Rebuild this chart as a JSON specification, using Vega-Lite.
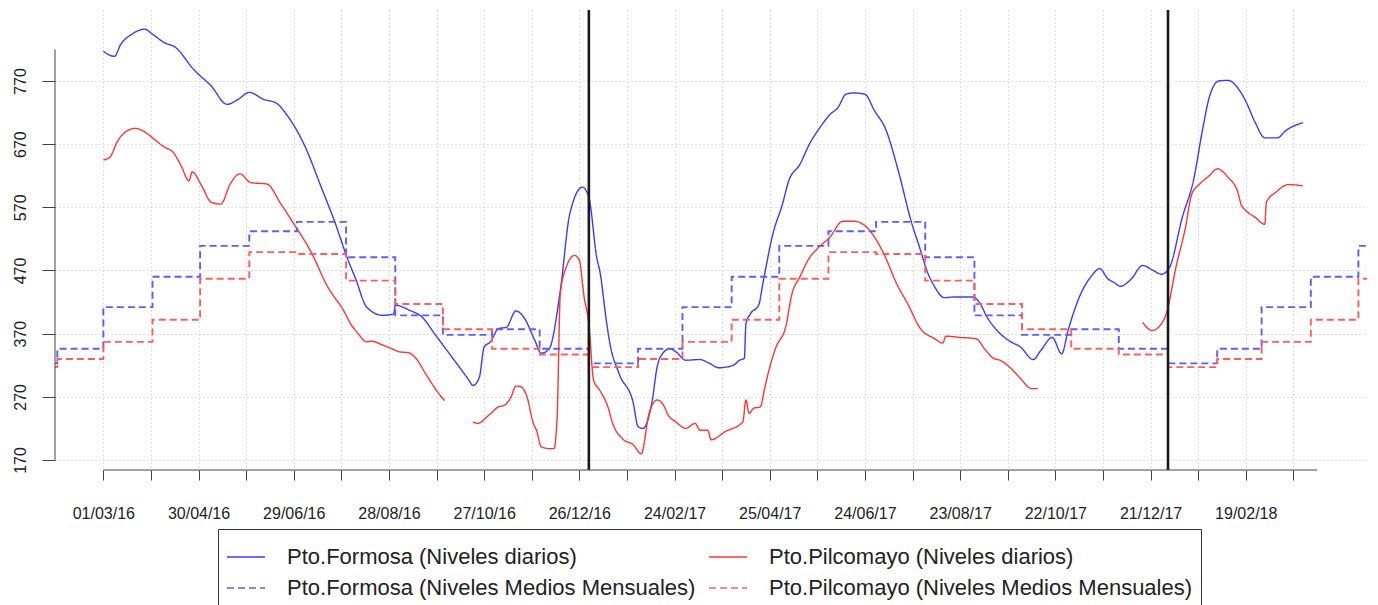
{
  "$schema": "https://vega.github.io/schema/vega-lite/v6.json",
  "width": 1312,
  "height": 460,
  "autosize": {"type": "none"},
  "padding": {"left": 55, "top": 10, "right": 11, "bottom": 135},
  "background": "white",
  "config": {"view": {"stroke": null}, "font": "Liberation Sans"},
  "datasets": {
    "diario": [
      {"fecha":"2016-03-01","serie":"FD","tramo":1,"nivel":817},{"fecha":"2016-03-08","serie":"FD","tramo":1,"nivel":809},{"fecha":"2016-03-12","serie":"FD","tramo":1,"nivel":828},{"fecha":"2016-03-19","serie":"FD","tramo":1,"nivel":844},{"fecha":"2016-03-27","serie":"FD","tramo":1,"nivel":852},{"fecha":"2016-04-01","serie":"FD","tramo":1,"nivel":844},{"fecha":"2016-04-09","serie":"FD","tramo":1,"nivel":830},{"fecha":"2016-04-15","serie":"FD","tramo":1,"nivel":824},{"fecha":"2016-04-27","serie":"FD","tramo":1,"nivel":788},{"fecha":"2016-05-08","serie":"FD","tramo":1,"nivel":762},{"fecha":"2016-05-18","serie":"FD","tramo":1,"nivel":733},{"fecha":"2016-05-25","serie":"FD","tramo":1,"nivel":741},{"fecha":"2016-06-01","serie":"FD","tramo":1,"nivel":752},{"fecha":"2016-06-10","serie":"FD","tramo":1,"nivel":741},{"fecha":"2016-06-18","serie":"FD","tramo":1,"nivel":735},{"fecha":"2016-06-25","serie":"FD","tramo":1,"nivel":715},{"fecha":"2016-07-06","serie":"FD","tramo":1,"nivel":667},{"fecha":"2016-07-16","serie":"FD","tramo":1,"nivel":604},{"fecha":"2016-07-25","serie":"FD","tramo":1,"nivel":546},{"fecha":"2016-08-02","serie":"FD","tramo":1,"nivel":488},{"fecha":"2016-08-07","serie":"FD","tramo":1,"nivel":457},{"fecha":"2016-08-14","serie":"FD","tramo":1,"nivel":412},{"fecha":"2016-08-24","serie":"FD","tramo":1,"nivel":399},{"fecha":"2016-08-31","serie":"FD","tramo":1,"nivel":401},{"fecha":"2016-09-01","serie":"FD","tramo":1,"nivel":415},{"fecha":"2016-09-10","serie":"FD","tramo":1,"nivel":407},{"fecha":"2016-09-18","serie":"FD","tramo":1,"nivel":396},{"fecha":"2016-09-26","serie":"FD","tramo":1,"nivel":369},{"fecha":"2016-10-04","serie":"FD","tramo":1,"nivel":342},{"fecha":"2016-10-12","serie":"FD","tramo":1,"nivel":315},{"fecha":"2016-10-17","serie":"FD","tramo":1,"nivel":298},{"fecha":"2016-10-20","serie":"FD","tramo":1,"nivel":288},{"fecha":"2016-10-24","serie":"FD","tramo":1,"nivel":301},{"fecha":"2016-10-27","serie":"FD","tramo":1,"nivel":349},{"fecha":"2016-10-31","serie":"FD","tramo":1,"nivel":357},{"fecha":"2016-11-05","serie":"FD","tramo":1,"nivel":378},{"fecha":"2016-11-10","serie":"FD","tramo":1,"nivel":380},{"fecha":"2016-11-16","serie":"FD","tramo":1,"nivel":406},{"fecha":"2016-11-21","serie":"FD","tramo":1,"nivel":396},{"fecha":"2016-11-28","serie":"FD","tramo":1,"nivel":359},{"fecha":"2016-12-02","serie":"FD","tramo":1,"nivel":339},{"fecha":"2016-12-07","serie":"FD","tramo":1,"nivel":346},{"fecha":"2016-12-14","serie":"FD","tramo":1,"nivel":438},{"fecha":"2016-12-20","serie":"FD","tramo":1,"nivel":560},{"fecha":"2016-12-28","serie":"FD","tramo":1,"nivel":602},{"fecha":"2017-01-01","serie":"FD","tramo":1,"nivel":586},{"fecha":"2017-01-06","serie":"FD","tramo":1,"nivel":490},{"fecha":"2017-01-08","serie":"FD","tramo":1,"nivel":468},{"fecha":"2017-01-12","serie":"FD","tramo":1,"nivel":391},{"fecha":"2017-01-14","serie":"FD","tramo":1,"nivel":358},{"fecha":"2017-01-20","serie":"FD","tramo":1,"nivel":307},{"fecha":"2017-01-29","serie":"FD","tramo":1,"nivel":260},{"fecha":"2017-02-01","serie":"FD","tramo":1,"nivel":223},{"fecha":"2017-02-04","serie":"FD","tramo":1,"nivel":220},{"fecha":"2017-02-10","serie":"FD","tramo":1,"nivel":265},{"fecha":"2017-02-13","serie":"FD","tramo":1,"nivel":317},{"fecha":"2017-02-15","serie":"FD","tramo":1,"nivel":333},{"fecha":"2017-02-21","serie":"FD","tramo":1,"nivel":346},{"fecha":"2017-02-25","serie":"FD","tramo":1,"nivel":341},{"fecha":"2017-03-03","serie":"FD","tramo":1,"nivel":328},{"fecha":"2017-03-12","serie":"FD","tramo":1,"nivel":329},{"fecha":"2017-03-18","serie":"FD","tramo":1,"nivel":323},{"fecha":"2017-03-24","serie":"FD","tramo":1,"nivel":316},{"fecha":"2017-04-02","serie":"FD","tramo":1,"nivel":320},{"fecha":"2017-04-06","serie":"FD","tramo":1,"nivel":328},{"fecha":"2017-04-09","serie":"FD","tramo":1,"nivel":331},{"fecha":"2017-04-10","serie":"FD","tramo":1,"nivel":386},{"fecha":"2017-04-13","serie":"FD","tramo":1,"nivel":402},{"fecha":"2017-04-18","serie":"FD","tramo":1,"nivel":415},{"fecha":"2017-04-21","serie":"FD","tramo":1,"nivel":454},{"fecha":"2017-04-27","serie":"FD","tramo":1,"nivel":528},{"fecha":"2017-05-03","serie":"FD","tramo":1,"nivel":575},{"fecha":"2017-05-07","serie":"FD","tramo":1,"nivel":612},{"fecha":"2017-05-14","serie":"FD","tramo":1,"nivel":638},{"fecha":"2017-05-20","serie":"FD","tramo":1,"nivel":670},{"fecha":"2017-05-26","serie":"FD","tramo":1,"nivel":694},{"fecha":"2017-06-02","serie":"FD","tramo":1,"nivel":717},{"fecha":"2017-06-07","serie":"FD","tramo":1,"nivel":728},{"fecha":"2017-06-12","serie":"FD","tramo":1,"nivel":749},{"fecha":"2017-06-17","serie":"FD","tramo":1,"nivel":751},{"fecha":"2017-06-24","serie":"FD","tramo":1,"nivel":749},{"fecha":"2017-06-30","serie":"FD","tramo":1,"nivel":723},{"fecha":"2017-07-07","serie":"FD","tramo":1,"nivel":694},{"fecha":"2017-07-15","serie":"FD","tramo":1,"nivel":628},{"fecha":"2017-07-23","serie":"FD","tramo":1,"nivel":549},{"fecha":"2017-07-29","serie":"FD","tramo":1,"nivel":502},{"fecha":"2017-08-02","serie":"FD","tramo":1,"nivel":470},{"fecha":"2017-08-07","serie":"FD","tramo":1,"nivel":444},{"fecha":"2017-08-13","serie":"FD","tramo":1,"nivel":427},{"fecha":"2017-08-19","serie":"FD","tramo":1,"nivel":428},{"fecha":"2017-08-31","serie":"FD","tramo":1,"nivel":428},{"fecha":"2017-09-04","serie":"FD","tramo":1,"nivel":420},{"fecha":"2017-09-09","serie":"FD","tramo":1,"nivel":396},{"fecha":"2017-09-16","serie":"FD","tramo":1,"nivel":373},{"fecha":"2017-09-24","serie":"FD","tramo":1,"nivel":357},{"fecha":"2017-09-30","serie":"FD","tramo":1,"nivel":349},{"fecha":"2017-10-08","serie":"FD","tramo":1,"nivel":329},{"fecha":"2017-10-13","serie":"FD","tramo":1,"nivel":344},{"fecha":"2017-10-20","serie":"FD","tramo":1,"nivel":364},{"fecha":"2017-10-26","serie":"FD","tramo":1,"nivel":338},{"fecha":"2017-10-30","serie":"FD","tramo":1,"nivel":375},{"fecha":"2017-11-07","serie":"FD","tramo":1,"nivel":433},{"fecha":"2017-11-14","serie":"FD","tramo":1,"nivel":462},{"fecha":"2017-11-19","serie":"FD","tramo":1,"nivel":473},{"fecha":"2017-11-24","serie":"FD","tramo":1,"nivel":457},{"fecha":"2017-11-28","serie":"FD","tramo":1,"nivel":451},{"fecha":"2017-12-02","serie":"FD","tramo":1,"nivel":445},{"fecha":"2017-12-09","serie":"FD","tramo":1,"nivel":457},{"fecha":"2017-12-16","serie":"FD","tramo":1,"nivel":478},{"fecha":"2017-12-22","serie":"FD","tramo":1,"nivel":471},{"fecha":"2017-12-28","serie":"FD","tramo":1,"nivel":464},{"fecha":"2018-01-02","serie":"FD","tramo":1,"nivel":475},{"fecha":"2018-01-10","serie":"FD","tramo":1,"nivel":554},{"fecha":"2018-01-17","serie":"FD","tramo":1,"nivel":612},{"fecha":"2018-01-23","serie":"FD","tramo":1,"nivel":696},{"fecha":"2018-01-27","serie":"FD","tramo":1,"nivel":744},{"fecha":"2018-02-02","serie":"FD","tramo":1,"nivel":770},{"fecha":"2018-02-08","serie":"FD","tramo":1,"nivel":771},{"fecha":"2018-02-13","serie":"FD","tramo":1,"nivel":762},{"fecha":"2018-02-19","serie":"FD","tramo":1,"nivel":738},{"fecha":"2018-02-25","serie":"FD","tramo":1,"nivel":704},{"fecha":"2018-03-03","serie":"FD","tramo":1,"nivel":680},{"fecha":"2018-03-11","serie":"FD","tramo":1,"nivel":680},{"fecha":"2018-03-16","serie":"FD","tramo":1,"nivel":691},{"fecha":"2018-03-27","serie":"FD","tramo":1,"nivel":704},
      {"fecha":"2016-03-01","serie":"PD","tramo":1,"nivel":645},{"fecha":"2016-03-05","serie":"PD","tramo":1,"nivel":649},{"fecha":"2016-03-10","serie":"PD","tramo":1,"nivel":675},{"fecha":"2016-03-16","serie":"PD","tramo":1,"nivel":691},{"fecha":"2016-03-21","serie":"PD","tramo":1,"nivel":695},{"fecha":"2016-03-26","serie":"PD","tramo":1,"nivel":691},{"fecha":"2016-04-02","serie":"PD","tramo":1,"nivel":678},{"fecha":"2016-04-08","serie":"PD","tramo":1,"nivel":666},{"fecha":"2016-04-14","serie":"PD","tramo":1,"nivel":657},{"fecha":"2016-04-19","serie":"PD","tramo":1,"nivel":636},{"fecha":"2016-04-24","serie":"PD","tramo":1,"nivel":612},{"fecha":"2016-04-26","serie":"PD","tramo":1,"nivel":626},{"fecha":"2016-05-02","serie":"PD","tramo":1,"nivel":604},{"fecha":"2016-05-08","serie":"PD","tramo":1,"nivel":578},{"fecha":"2016-05-14","serie":"PD","tramo":1,"nivel":575},{"fecha":"2016-05-20","serie":"PD","tramo":1,"nivel":607},{"fecha":"2016-05-26","serie":"PD","tramo":1,"nivel":623},{"fecha":"2016-06-02","serie":"PD","tramo":1,"nivel":609},{"fecha":"2016-06-12","serie":"PD","tramo":1,"nivel":607},{"fecha":"2016-06-21","serie":"PD","tramo":1,"nivel":575},{"fecha":"2016-06-29","serie":"PD","tramo":1,"nivel":544},{"fecha":"2016-07-10","serie":"PD","tramo":1,"nivel":499},{"fecha":"2016-07-20","serie":"PD","tramo":1,"nivel":446},{"fecha":"2016-07-31","serie":"PD","tramo":1,"nivel":404},{"fecha":"2016-08-04","serie":"PD","tramo":1,"nivel":385},{"fecha":"2016-08-08","serie":"PD","tramo":1,"nivel":372},{"fecha":"2016-08-14","serie":"PD","tramo":1,"nivel":357},{"fecha":"2016-08-17","serie":"PD","tramo":1,"nivel":358},{"fecha":"2016-08-24","serie":"PD","tramo":1,"nivel":352},{"fecha":"2016-08-30","serie":"PD","tramo":1,"nivel":346},{"fecha":"2016-09-04","serie":"PD","tramo":1,"nivel":341},{"fecha":"2016-09-09","serie":"PD","tramo":1,"nivel":340},{"fecha":"2016-09-14","serie":"PD","tramo":1,"nivel":331},{"fecha":"2016-09-20","serie":"PD","tramo":1,"nivel":307},{"fecha":"2016-09-27","serie":"PD","tramo":1,"nivel":280},{"fecha":"2016-10-02","serie":"PD","tramo":1,"nivel":264},
      {"fecha":"2016-10-20","serie":"PD","tramo":2,"nivel":230},{"fecha":"2016-10-23","serie":"PD","tramo":2,"nivel":228},{"fecha":"2016-10-30","serie":"PD","tramo":2,"nivel":241},{"fecha":"2016-11-05","serie":"PD","tramo":2,"nivel":254},{"fecha":"2016-11-09","serie":"PD","tramo":2,"nivel":257},{"fecha":"2016-11-13","serie":"PD","tramo":2,"nivel":270},{"fecha":"2016-11-16","serie":"PD","tramo":2,"nivel":287},{"fecha":"2016-11-19","serie":"PD","tramo":2,"nivel":286},{"fecha":"2016-11-23","serie":"PD","tramo":2,"nivel":270},{"fecha":"2016-11-27","serie":"PD","tramo":2,"nivel":228},{"fecha":"2016-11-29","serie":"PD","tramo":2,"nivel":217},{"fecha":"2016-12-02","serie":"PD","tramo":2,"nivel":191},{"fecha":"2016-12-07","serie":"PD","tramo":2,"nivel":188},{"fecha":"2016-12-10","serie":"PD","tramo":2,"nivel":188},{"fecha":"2016-12-12","serie":"PD","tramo":2,"nivel":238},{"fecha":"2016-12-14","serie":"PD","tramo":2,"nivel":433},{"fecha":"2016-12-17","serie":"PD","tramo":2,"nivel":470},{"fecha":"2016-12-23","serie":"PD","tramo":2,"nivel":494},{"fecha":"2016-12-26","serie":"PD","tramo":2,"nivel":486},{"fecha":"2016-12-29","serie":"PD","tramo":2,"nivel":428},{"fecha":"2017-01-01","serie":"PD","tramo":2,"nivel":386},{"fecha":"2017-01-04","serie":"PD","tramo":2,"nivel":296},{"fecha":"2017-01-08","serie":"PD","tramo":2,"nivel":280},{"fecha":"2017-01-13","serie":"PD","tramo":2,"nivel":254},{"fecha":"2017-01-16","serie":"PD","tramo":2,"nivel":228},{"fecha":"2017-01-22","serie":"PD","tramo":2,"nivel":204},{"fecha":"2017-01-29","serie":"PD","tramo":2,"nivel":194},{"fecha":"2017-02-03","serie":"PD","tramo":2,"nivel":180},{"fecha":"2017-02-08","serie":"PD","tramo":2,"nivel":244},{"fecha":"2017-02-13","serie":"PD","tramo":2,"nivel":265},{"fecha":"2017-02-17","serie":"PD","tramo":2,"nivel":257},{"fecha":"2017-02-20","serie":"PD","tramo":2,"nivel":241},{"fecha":"2017-02-25","serie":"PD","tramo":2,"nivel":230},{"fecha":"2017-03-03","serie":"PD","tramo":2,"nivel":220},{"fecha":"2017-03-09","serie":"PD","tramo":2,"nivel":228},{"fecha":"2017-03-12","serie":"PD","tramo":2,"nivel":217},{"fecha":"2017-03-17","serie":"PD","tramo":2,"nivel":217},{"fecha":"2017-03-19","serie":"PD","tramo":2,"nivel":202},{"fecha":"2017-03-28","serie":"PD","tramo":2,"nivel":215},{"fecha":"2017-04-08","serie":"PD","tramo":2,"nivel":230},{"fecha":"2017-04-10","serie":"PD","tramo":2,"nivel":265},{"fecha":"2017-04-12","serie":"PD","tramo":2,"nivel":244},{"fecha":"2017-04-15","serie":"PD","tramo":2,"nivel":252},{"fecha":"2017-04-19","serie":"PD","tramo":2,"nivel":254},{"fecha":"2017-04-22","serie":"PD","tramo":2,"nivel":286},{"fecha":"2017-04-25","serie":"PD","tramo":2,"nivel":317},{"fecha":"2017-04-29","serie":"PD","tramo":2,"nivel":349},{"fecha":"2017-05-05","serie":"PD","tramo":2,"nivel":380},{"fecha":"2017-05-09","serie":"PD","tramo":2,"nivel":433},{"fecha":"2017-05-14","serie":"PD","tramo":2,"nivel":460},{"fecha":"2017-05-19","serie":"PD","tramo":2,"nivel":486},{"fecha":"2017-05-26","serie":"PD","tramo":2,"nivel":507},{"fecha":"2017-06-02","serie":"PD","tramo":2,"nivel":523},{"fecha":"2017-06-10","serie":"PD","tramo":2,"nivel":548},{"fecha":"2017-06-17","serie":"PD","tramo":2,"nivel":548},{"fecha":"2017-06-24","serie":"PD","tramo":2,"nivel":541},{"fecha":"2017-06-30","serie":"PD","tramo":2,"nivel":523},{"fecha":"2017-07-06","serie":"PD","tramo":2,"nivel":496},{"fecha":"2017-07-14","serie":"PD","tramo":2,"nivel":449},{"fecha":"2017-07-21","serie":"PD","tramo":2,"nivel":417},{"fecha":"2017-07-29","serie":"PD","tramo":2,"nivel":378},{"fecha":"2017-08-07","serie":"PD","tramo":2,"nivel":362},{"fecha":"2017-08-12","serie":"PD","tramo":2,"nivel":355},{"fecha":"2017-08-14","serie":"PD","tramo":2,"nivel":366},{"fecha":"2017-08-23","serie":"PD","tramo":2,"nivel":364},{"fecha":"2017-09-02","serie":"PD","tramo":2,"nivel":362},{"fecha":"2017-09-08","serie":"PD","tramo":2,"nivel":344},{"fecha":"2017-09-13","serie":"PD","tramo":2,"nivel":331},{"fecha":"2017-09-17","serie":"PD","tramo":2,"nivel":328},{"fecha":"2017-09-24","serie":"PD","tramo":2,"nivel":315},{"fecha":"2017-09-30","serie":"PD","tramo":2,"nivel":299},{"fecha":"2017-10-07","serie":"PD","tramo":2,"nivel":283},{"fecha":"2017-10-11","serie":"PD","tramo":2,"nivel":283},
      {"fecha":"2017-12-16","serie":"PD","tramo":3,"nivel":388},{"fecha":"2017-12-22","serie":"PD","tramo":3,"nivel":375},{"fecha":"2017-12-27","serie":"PD","tramo":3,"nivel":383},{"fecha":"2017-12-31","serie":"PD","tramo":3,"nivel":402},{"fecha":"2018-01-06","serie":"PD","tramo":3,"nivel":475},{"fecha":"2018-01-12","serie":"PD","tramo":3,"nivel":538},{"fecha":"2018-01-16","serie":"PD","tramo":3,"nivel":591},{"fecha":"2018-01-21","serie":"PD","tramo":3,"nivel":607},{"fecha":"2018-01-27","serie":"PD","tramo":3,"nivel":620},{"fecha":"2018-02-01","serie":"PD","tramo":3,"nivel":631},{"fecha":"2018-02-08","serie":"PD","tramo":3,"nivel":617},{"fecha":"2018-02-14","serie":"PD","tramo":3,"nivel":594},{"fecha":"2018-02-16","serie":"PD","tramo":3,"nivel":575},{"fecha":"2018-02-19","serie":"PD","tramo":3,"nivel":565},{"fecha":"2018-02-25","serie":"PD","tramo":3,"nivel":554},{"fecha":"2018-03-03","serie":"PD","tramo":3,"nivel":543},{"fecha":"2018-03-04","serie":"PD","tramo":3,"nivel":578},{"fecha":"2018-03-10","serie":"PD","tramo":3,"nivel":594},{"fecha":"2018-03-18","serie":"PD","tramo":3,"nivel":606},{"fecha":"2018-03-27","serie":"PD","tramo":3,"nivel":604}
    ],
    "mensual": [
      {"fecha":"2016-01-01","serie":"FM","nivel":323},{"fecha":"2016-02-01","serie":"FM","nivel":346},{"fecha":"2016-03-01","serie":"FM","nivel":412},{"fecha":"2016-04-01","serie":"FM","nivel":460},{"fecha":"2016-05-01","serie":"FM","nivel":509},{"fecha":"2016-06-01","serie":"FM","nivel":532},{"fecha":"2016-07-01","serie":"FM","nivel":547},{"fecha":"2016-08-01","serie":"FM","nivel":491},{"fecha":"2016-09-01","serie":"FM","nivel":399},{"fecha":"2016-10-01","serie":"FM","nivel":368},{"fecha":"2016-11-01","serie":"FM","nivel":377},{"fecha":"2016-12-01","serie":"FM","nivel":346},
      {"fecha":"2017-01-01","serie":"FM","nivel":323},{"fecha":"2017-02-01","serie":"FM","nivel":346},{"fecha":"2017-03-01","serie":"FM","nivel":412},{"fecha":"2017-04-01","serie":"FM","nivel":460},{"fecha":"2017-05-01","serie":"FM","nivel":509},{"fecha":"2017-06-01","serie":"FM","nivel":532},{"fecha":"2017-07-01","serie":"FM","nivel":547},{"fecha":"2017-08-01","serie":"FM","nivel":491},{"fecha":"2017-09-01","serie":"FM","nivel":399},{"fecha":"2017-10-01","serie":"FM","nivel":368},{"fecha":"2017-11-01","serie":"FM","nivel":377},{"fecha":"2017-12-01","serie":"FM","nivel":346},
      {"fecha":"2018-01-01","serie":"FM","nivel":323},{"fecha":"2018-02-01","serie":"FM","nivel":346},{"fecha":"2018-03-01","serie":"FM","nivel":412},{"fecha":"2018-04-01","serie":"FM","nivel":460},{"fecha":"2018-05-01","serie":"FM","nivel":509},{"fecha":"2018-06-01","serie":"FM","nivel":532},
      {"fecha":"2016-01-01","serie":"PM","nivel":317},{"fecha":"2016-02-01","serie":"PM","nivel":330},{"fecha":"2016-03-01","serie":"PM","nivel":357},{"fecha":"2016-04-01","serie":"PM","nivel":392},{"fecha":"2016-05-01","serie":"PM","nivel":457},{"fecha":"2016-06-01","serie":"PM","nivel":499},{"fecha":"2016-07-01","serie":"PM","nivel":496},{"fecha":"2016-08-01","serie":"PM","nivel":454},{"fecha":"2016-09-01","serie":"PM","nivel":417},{"fecha":"2016-10-01","serie":"PM","nivel":377},{"fecha":"2016-11-01","serie":"PM","nivel":346},{"fecha":"2016-12-01","serie":"PM","nivel":337},
      {"fecha":"2017-01-01","serie":"PM","nivel":317},{"fecha":"2017-02-01","serie":"PM","nivel":330},{"fecha":"2017-03-01","serie":"PM","nivel":357},{"fecha":"2017-04-01","serie":"PM","nivel":392},{"fecha":"2017-05-01","serie":"PM","nivel":457},{"fecha":"2017-06-01","serie":"PM","nivel":499},{"fecha":"2017-07-01","serie":"PM","nivel":496},{"fecha":"2017-08-01","serie":"PM","nivel":454},{"fecha":"2017-09-01","serie":"PM","nivel":417},{"fecha":"2017-10-01","serie":"PM","nivel":377},{"fecha":"2017-11-01","serie":"PM","nivel":346},{"fecha":"2017-12-01","serie":"PM","nivel":337},
      {"fecha":"2018-01-01","serie":"PM","nivel":317},{"fecha":"2018-02-01","serie":"PM","nivel":330},{"fecha":"2018-03-01","serie":"PM","nivel":357},{"fecha":"2018-04-01","serie":"PM","nivel":392},{"fecha":"2018-05-01","serie":"PM","nivel":457},{"fecha":"2018-06-01","serie":"PM","nivel":499}
    ],
    "cortes": [{"fecha":"2017-01-01"},{"fecha":"2018-01-01"}],
    "ejes": [{"desde":"2016-03-01","hasta":"2018-04-05","base":154.17,"yini":170,"yfin":820,"xini":"2016-01-30T13:00:00Z"}]
  },
  "layer": [
    {
      "data": {"name": "diario"},
      "mark": {"type": "line", "clip": true, "strokeWidth": 1.4, "interpolate": "monotone"},
      "encoding": {
        "x": {
          "field": "fecha", "type": "temporal", "title": null,
          "scale": {"type": "utc", "domain": [{"year": 2016, "month": 1, "date": 30, "hours": 13, "utc": true}, {"year": 2018, "month": 5, "date": 6, "hours": 10, "utc": true}]},
          "axis": {
            "title": null, "domain": false, "grid": true, "gridColor": "#c2c2c2", "gridDash": [1, 3], "gridWidth": 1,
            "tickSize": 10, "tickColor": "#444", "tickWidth": 1,
            "labelFont": "Liberation Sans", "labelFontSize": 16, "labelColor": "#222", "labelPadding": 38, "labelBaseline": "alphabetic", "labelAngle": 0, "labelFlush": false, "labelOverlap": false, "labelBound": false,
            "values": [
              {"year":2016,"month":3,"date":1,"utc":true},{"year":2016,"month":3,"date":16,"utc":true},{"year":2016,"month":3,"date":31,"utc":true},{"year":2016,"month":4,"date":15,"utc":true},{"year":2016,"month":4,"date":30,"utc":true},{"year":2016,"month":5,"date":15,"utc":true},{"year":2016,"month":5,"date":30,"utc":true},{"year":2016,"month":6,"date":14,"utc":true},{"year":2016,"month":6,"date":29,"utc":true},{"year":2016,"month":7,"date":14,"utc":true},{"year":2016,"month":7,"date":29,"utc":true},{"year":2016,"month":8,"date":13,"utc":true},{"year":2016,"month":8,"date":28,"utc":true},{"year":2016,"month":9,"date":12,"utc":true},{"year":2016,"month":9,"date":27,"utc":true},{"year":2016,"month":10,"date":12,"utc":true},{"year":2016,"month":10,"date":27,"utc":true},{"year":2016,"month":11,"date":11,"utc":true},{"year":2016,"month":11,"date":26,"utc":true},{"year":2016,"month":12,"date":11,"utc":true},{"year":2016,"month":12,"date":26,"utc":true},
              {"year":2017,"month":1,"date":10,"utc":true},{"year":2017,"month":1,"date":25,"utc":true},{"year":2017,"month":2,"date":9,"utc":true},{"year":2017,"month":2,"date":24,"utc":true},{"year":2017,"month":3,"date":11,"utc":true},{"year":2017,"month":3,"date":26,"utc":true},{"year":2017,"month":4,"date":10,"utc":true},{"year":2017,"month":4,"date":25,"utc":true},{"year":2017,"month":5,"date":10,"utc":true},{"year":2017,"month":5,"date":25,"utc":true},{"year":2017,"month":6,"date":9,"utc":true},{"year":2017,"month":6,"date":24,"utc":true},{"year":2017,"month":7,"date":9,"utc":true},{"year":2017,"month":7,"date":24,"utc":true},{"year":2017,"month":8,"date":8,"utc":true},{"year":2017,"month":8,"date":23,"utc":true},{"year":2017,"month":9,"date":7,"utc":true},{"year":2017,"month":9,"date":22,"utc":true},{"year":2017,"month":10,"date":7,"utc":true},{"year":2017,"month":10,"date":22,"utc":true},{"year":2017,"month":11,"date":6,"utc":true},{"year":2017,"month":11,"date":21,"utc":true},{"year":2017,"month":12,"date":6,"utc":true},{"year":2017,"month":12,"date":21,"utc":true},
              {"year":2018,"month":1,"date":5,"utc":true},{"year":2018,"month":1,"date":20,"utc":true},{"year":2018,"month":2,"date":4,"utc":true},{"year":2018,"month":2,"date":19,"utc":true},{"year":2018,"month":3,"date":6,"utc":true},{"year":2018,"month":3,"date":21,"utc":true},{"year":2018,"month":4,"date":5,"utc":true}
            ],
            "labelExpr": "indexof(['01/03/16','30/04/16','29/06/16','28/08/16','27/10/16','26/12/16','24/02/17','25/04/17','24/06/17','23/08/17','22/10/17','21/12/17','19/02/18'], utcFormat(datum.value, '%d/%m/%y')) >= 0 ? utcFormat(datum.value, '%d/%m/%y') : ''"
          }
        },
        "y": {
          "field": "nivel", "type": "quantitative", "title": null,
          "scale": {"domain": [154.17, 882.35], "nice": false, "zero": false},
          "axis": {
            "title": null, "domain": false, "grid": true, "gridColor": "#c2c2c2", "gridDash": [1, 3], "gridWidth": 1,
            "values": [170, 220, 270, 320, 370, 420, 470, 520, 570, 620, 670, 720, 770, 820],
            "labelExpr": "(datum.value - 170) % 100 == 0 ? datum.label : ''",
            "tickSize": 13, "tickColor": "#444", "tickWidth": 1,
            "labelFont": "Liberation Sans", "labelFontSize": 16, "labelColor": "#222", "labelAngle": -90, "labelAlign": "center", "labelBaseline": "alphabetic", "labelPadding": 17, "labelOverlap": false, "labelBound": false
          }
        },
        "detail": {"field": "tramo"},
        "color": {
          "field": "serie", "type": "nominal", "title": null,
          "scale": {"domain": ["FD", "PD", "FM", "PM"], "range": ["#3a3aff", "#ff3434", "#5c5cff", "#ff5c5c"]},
          "legend": {
            "orient": "none", "legendX": 163, "legendY": 519, "title": null, "columns": 2, "direction": "horizontal",
            "symbolType": "stroke", "symbolSize": 1444, "symbolStrokeWidth": 1.6,
            "labelFont": "Liberation Sans", "labelFontSize": 22, "labelColor": "#222", "labelOffset": 21, "labelLimit": 900,
            "columnPadding": 9, "rowPadding": -25, "padding": 8, "strokeColor": "#333", "fillColor": "white",
            "labelExpr": "datum.label == 'FD' ? 'Pto.Formosa (Niveles diarios)' : datum.label == 'PD' ? 'Pto.Pilcomayo (Niveles diarios)' : datum.label == 'FM' ? 'Pto.Formosa (Niveles Medios Mensuales)' : 'Pto.Pilcomayo (Niveles Medios Mensuales)'"
          }
        },
        "strokeDash": {
          "field": "serie", "type": "nominal", "title": null,
          "scale": {"domain": ["FD", "PD", "FM", "PM"], "range": [[1, 0], [1, 0], [7, 4], [7, 4]]},
          "legend": {
            "orient": "none", "legendX": 163, "legendY": 519, "title": null, "columns": 2, "direction": "horizontal",
            "symbolType": "stroke", "symbolSize": 1444, "symbolStrokeWidth": 1.6,
            "labelFont": "Liberation Sans", "labelFontSize": 22, "labelColor": "#222", "labelOffset": 21, "labelLimit": 900,
            "columnPadding": 9, "rowPadding": -25, "padding": 8, "strokeColor": "#333", "fillColor": "white",
            "labelExpr": "datum.label == 'FD' ? 'Pto.Formosa (Niveles diarios)' : datum.label == 'PD' ? 'Pto.Pilcomayo (Niveles diarios)' : datum.label == 'FM' ? 'Pto.Formosa (Niveles Medios Mensuales)' : 'Pto.Pilcomayo (Niveles Medios Mensuales)'"
          }
        }
      }
    },
    {
      "data": {"name": "mensual"},
      "mark": {"type": "line", "clip": true, "strokeWidth": 1.9, "interpolate": "step-after"},
      "encoding": {
        "x": {"field": "fecha", "type": "temporal", "title": null},
        "y": {"field": "nivel", "type": "quantitative", "title": null},
        "color": {"field": "serie", "type": "nominal", "title": null},
        "strokeDash": {"field": "serie", "type": "nominal", "title": null}
      }
    },
    {
      "data": {"name": "cortes"},
      "mark": {"type": "rule", "color": "#1a1a1a", "strokeWidth": 2.6},
      "encoding": {"x": {"field": "fecha", "type": "temporal", "title": null}}
    },
    {
      "data": {"name": "ejes"},
      "mark": {"type": "rule", "color": "#444", "strokeWidth": 1},
      "encoding": {
        "x": {"field": "desde", "type": "temporal", "title": null},
        "x2": {"field": "hasta"},
        "y": {"field": "base", "type": "quantitative", "title": null}
      }
    },
    {
      "data": {"name": "ejes"},
      "mark": {"type": "rule", "color": "#444", "strokeWidth": 1},
      "encoding": {
        "x": {"field": "xini", "type": "temporal", "title": null},
        "y": {"field": "yini", "type": "quantitative", "title": null},
        "y2": {"field": "yfin"}
      }
    }
  ]
}
